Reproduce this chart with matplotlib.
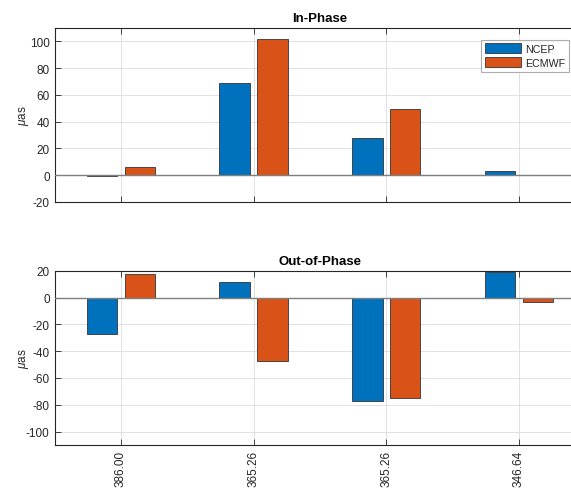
import matplotlib
matplotlib.use("Agg")
import matplotlib.pyplot as plt
import numpy as np

plt.rcParams['font.family'] = ['Liberation Sans', 'DejaVu Sans']
plt.rcParams['mathtext.fontset'] = 'custom'
plt.rcParams['mathtext.it'] = 'Liberation Sans:italic'
plt.rcParams['mathtext.rm'] = 'Liberation Sans'
plt.rcParams['axes.unicode_minus'] = False

# Periods of the tidal terms (days)
periods = ["386.00", "365.26", "365.26", "346.64"]
series = ["NCEP", "ECMWF"]

# Amplitudes in micro-arcseconds
in_phase_ncep = [-0.5, 69.0, 28.0, 3.0]
in_phase_ecmwf = [6.3, 101.8, 49.5, 0.4]
out_phase_ncep = [-26.9, 11.7, -76.9, 18.7]
out_phase_ecmwf = [17.2, -47.5, -74.9, -3.0]

colors = ["#0072BD", "#D95319"]
axis_gray = "#262626"

W, H = 571, 489
fig = plt.figure(figsize=(W / 100, H / 100), dpi=100)

# Axes run past the right edge of the figure
left_px = 54.5
width_px = 4 * 132.7
ax_top = fig.add_axes([left_px / W, 1 - 203 / H, width_px / W, (203 - 29) / H])
ax_bot = fig.add_axes([left_px / W, 1 - 446 / H, width_px / W, (446 - 271.7) / H])

x = np.arange(1, len(periods) + 1)
bw = 0.23
off = 0.143


def draw(ax, a, b, ylim, yticks, title):
    for vals, sgn, c, name in [(a, -1, colors[0], series[0]), (b, 1, colors[1], series[1])]:
        ax.bar(x + sgn * off, vals, width=bw, color=c,
               edgecolor="#333333", linewidth=0.6, label=name, zorder=3)
    ax.axhline(0, color="#7f7f7f", linewidth=1.0, zorder=4)
    ax.set_xlim(0.5, 4.5)
    ax.set_ylim(*ylim)
    ax.set_yticks(yticks)
    ax.set_xticks(x)
    ax.grid(True, color="#dcdcdc", linewidth=0.6, zorder=0)
    ax.set_axisbelow(True)
    ax.tick_params(direction="in", length=4, width=0.6, colors=axis_gray,
                   labelsize=8.5, top=True, right=False, labelcolor=axis_gray)
    for s in ax.spines.values():
        s.set_color(axis_gray)
        s.set_linewidth(0.8)
    ax.spines["right"].set_visible(False)
    ax.set_title(title, fontsize=9.5, fontweight="bold", color="black", pad=5)
    ax.set_ylabel(r"$\mathit{\mu}$as", fontsize=8.5, color=axis_gray)
    ax.yaxis.set_label_coords(-0.0445, 0.5)


draw(ax_top, in_phase_ncep, in_phase_ecmwf, (-20, 110), np.arange(-20, 101, 20), "In-Phase")
draw(ax_bot, out_phase_ncep, out_phase_ecmwf, (-110, 20), np.arange(-100, 21, 20), "Out-of-Phase")

ax_top.set_xticklabels([])
ax_bot.set_xticklabels(periods, rotation=90, fontsize=8.5, color=axis_gray)

leg = ax_top.legend(loc="upper left", bbox_to_anchor=(481 / W, 1 - 40.5 / H),
                    bbox_transform=fig.transFigure, fontsize=7.7, frameon=True,
                    fancybox=False, handlelength=3.4, handleheight=1.0,
                    handletextpad=0.35, labelspacing=0.35, borderpad=0.35,
                    borderaxespad=0)
leg.get_frame().set_edgecolor("#999999")
leg.get_frame().set_linewidth(0.8)
for t in leg.get_texts():
    t.set_color(axis_gray)

fig.savefig("out.png", dpi=100)
